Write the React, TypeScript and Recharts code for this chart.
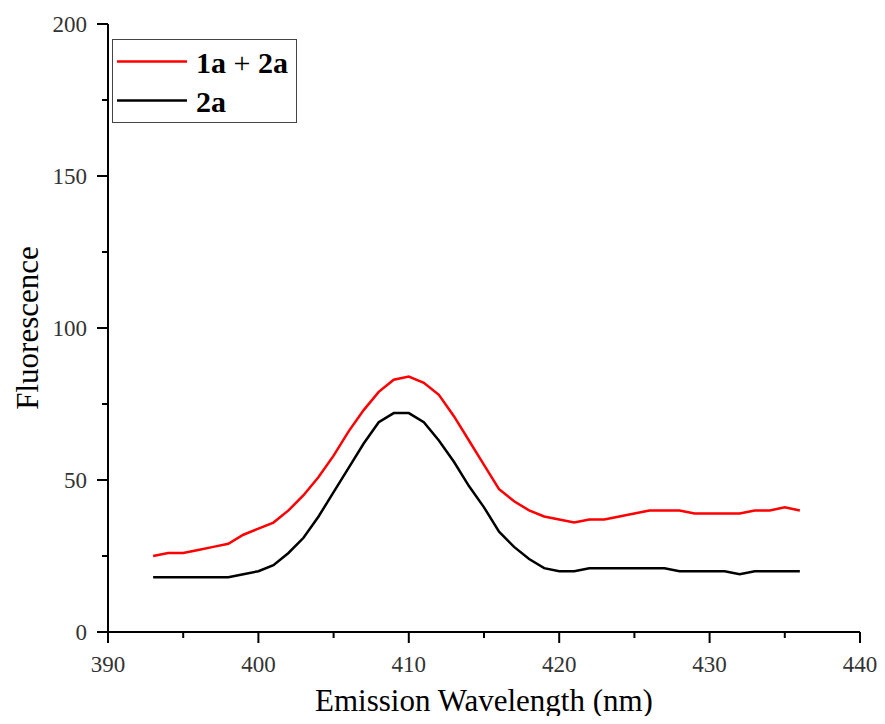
import React from "react";
import { LineChart, Line, XAxis, YAxis, Label } from "recharts";

const wavelengths = [
  393, 394, 395, 396, 397, 398, 399, 400, 401, 402, 403, 404, 405, 406, 407,
  408, 409, 410, 411, 412, 413, 414, 415, 416, 417, 418, 419, 420, 421, 422,
  423, 424, 425, 426, 427, 428, 429, 430, 431, 432, 433, 434, 435, 436,
];
const mix1a2a = [
  25, 26, 26, 27, 28, 29, 32, 34, 36, 40, 45, 51, 58, 66, 73,
  79, 83, 84, 82, 78, 71, 63, 55, 47, 43, 40, 38, 37, 36, 37,
  37, 38, 39, 40, 40, 40, 39, 39, 39, 39, 40, 40, 41, 40,
];
const only2a = [
  18, 18, 18, 18, 18, 18, 19, 20, 22, 26, 31, 38, 46, 54, 62,
  69, 72, 72, 69, 63, 56, 48, 41, 33, 28, 24, 21, 20, 20, 21,
  21, 21, 21, 21, 21, 20, 20, 20, 20, 19, 20, 20, 20, 20,
];
const xTicks = [390, 395, 400, 405, 410, 415, 420, 425, 430, 435, 440];
const yTicks = [0, 25, 50, 75, 100, 125, 150, 175, 200];

const data = wavelengths.map((w, i) => ({ w, a: mix1a2a[i], b: only2a[i] }));

const FONT = "Liberation Serif";

const XTick = (props: any) => {
  const { x, y, payload } = props;
  const major = payload.value % 10 === 0;
  return (
    <g>
      <line x1={x} x2={x} y1={y} y2={y + (major ? 11 : 6)} stroke="#000" strokeWidth={2} />
      {major && (
        <text x={x} y={y + 40} textAnchor="middle" fontSize={23} fontFamily={FONT} fill="#333">
          {payload.value}
        </text>
      )}
    </g>
  );
};

const YTick = (props: any) => {
  const { x, y, payload } = props;
  const major = payload.value % 50 === 0;
  return (
    <g>
      <line x1={x} x2={x - (major ? 11 : 6)} y1={y} y2={y} stroke="#000" strokeWidth={2} />
      {major && (
        <text x={x - 21} y={y + 8} textAnchor="end" fontSize={23} fontFamily={FONT} fill="#333">
          {payload.value}
        </text>
      )}
    </g>
  );
};

const LegendBox = () => (
  <svg width={185} height={84} style={{ display: "block" }}>
    <rect x={0.5} y={0.5} width={184} height={83} fill="#fff" stroke="#444" strokeWidth={1} />
    <line x1={5} x2={75} y1={22.5} y2={22.5} stroke="#ff0000" strokeWidth={2.5} />
    <line x1={5} x2={75} y1={61.5} y2={61.5} stroke="#000" strokeWidth={2.5} />
    <text x={84} y={34} fontSize={30} fontFamily={FONT} fill="#000">
      <tspan fontWeight="bold">1a</tspan>
      <tspan> + </tspan>
      <tspan fontWeight="bold">2a</tspan>
    </text>
    <text x={84} y={72.5} fontSize={30} fontFamily={FONT} fontWeight="bold" fill="#000">
      2a
    </text>
  </svg>
);

export default function App() {
  return (
    <div style={{ position: "relative", width: 869, height: 716, marginBottom: -8 }}>
      <LineChart
        width={869}
        height={716}
        data={data}
        margin={{ top: 16, right: 17, left: 0, bottom: 0 }}
      >
        <XAxis
          dataKey="w"
          type="number"
          domain={[390, 440]}
          ticks={xTicks}
          interval={0}
          height={92}
          tickSize={0}
          tickMargin={0}
          tickLine={false}
          axisLine={{ stroke: "#000", strokeWidth: 2 }}
          tick={<XTick />}
        >
          <Label
            content={({ viewBox }: any) => (
              <text
                x={viewBox.x + viewBox.width / 2}
                y={viewBox.y + 79}
                textAnchor="middle"
                fontSize={31}
                fontFamily={FONT}
                fill="#000"
              >
                Emission Wavelength (nm)
              </text>
            )}
          />
        </XAxis>
        <YAxis
          type="number"
          domain={[0, 200]}
          ticks={yTicks}
          interval={0}
          width={100}
          tickSize={0}
          tickMargin={0}
          tickLine={false}
          axisLine={{ stroke: "#000", strokeWidth: 2 }}
          tick={<YTick />}
        >
          <Label
            content={({ viewBox }: any) => {
              const cx = viewBox.x + 19;
              const cy = viewBox.y + viewBox.height / 2;
              return (
                <text
                  x={cx}
                  y={cy}
                  transform={`rotate(-90, ${cx}, ${cy})`}
                  textAnchor="middle"
                  dominantBaseline="central"
                  fontSize={31}
                  fontFamily={FONT}
                  fill="#000"
                >
                  Fluorescence
                </text>
              );
            }}
          />
        </YAxis>
        <Line
          type="linear"
          dataKey="a"
          name="1a + 2a"
          stroke="#ff0000"
          strokeWidth={2.5}
          dot={false}
          isAnimationActive={false}
        />
        <Line
          type="linear"
          dataKey="b"
          name="2a"
          stroke="#000000"
          strokeWidth={2.5}
          dot={false}
          isAnimationActive={false}
        />
      </LineChart>
      <div style={{ position: "absolute", left: 104, top: 31 }}>
        <LegendBox />
      </div>
    </div>
  );
}
